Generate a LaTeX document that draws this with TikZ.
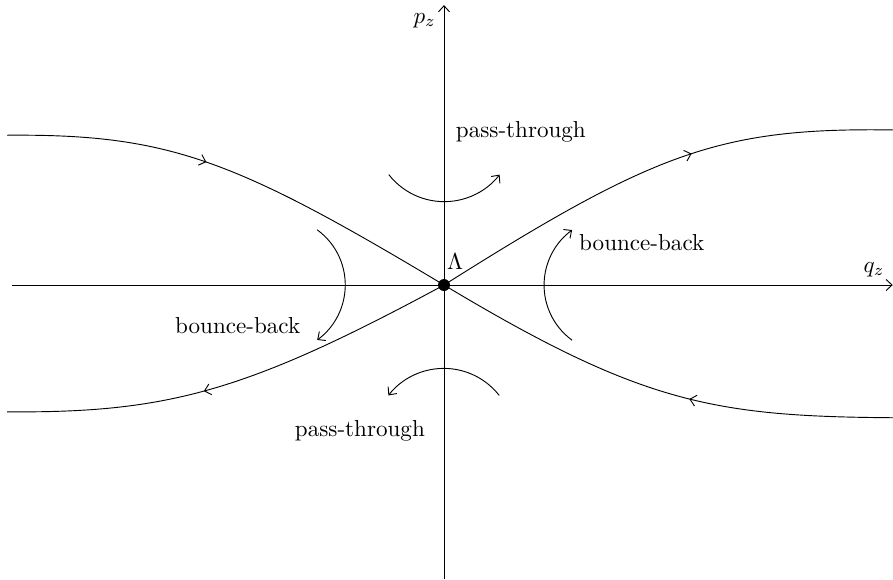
\documentclass[tikz,border=0pt]{standalone}
\usepackage{amsmath}
\usepackage{amssymb}
\usetikzlibrary{calc,arrows.meta,decorations.markings}

\begin{document}
\begin{tikzpicture}[
        >={Straight Barb[length=2.6pt,width=4.8pt]},
        every node/.style={font=\normalsize},
        axis/.style={->},
        orbit/.style={
            postaction={decorate},
            decoration={markings, mark=at position #1 with {\arrow{>}}}
        },
        turn/.style={->},
        saddle/.style={
            circle,
            fill,
            inner sep=0pt,
            minimum size=5.2pt
        }
    ]

    \useasboundingbox (-6.758,-4.475) rectangle (6.834,4.338);

    % =========================
    % Axes
    % =========================
    \coordinate (qmin) at (-6.57,0);
    \coordinate (qmax) at (6.83,0);
    \coordinate (pmin) at (0,-4.475);
    \coordinate (pmax) at (0,4.26);

    \draw[axis] (qmin) -- (qmax) node[above left] {$q_z$};
    \draw[axis] (pmin) -- (pmax) node[below left] {$p_z$};

    \node[saddle] (L) at (0,0) {};
    \node (lam) at (0.17,0.35) {$\Lambda$};

    % =========================
    % Separatrices
    % =========================
    \coordinate (ul) at (-6.65,2.28);
    \coordinate (ur) at (6.83,2.36);
    \coordinate (ll) at (-6.65,-1.93);
    \coordinate (lr) at (6.83,-2.02);

    \draw[orbit=0.43] (ul) .. controls (-4.2,2.3) and (-3.2,1.92) .. (L.center);
    \draw[orbit=0.58] (L.center) .. controls (3.2,2.02) and (4.2,2.4) .. (ur);
    \draw[orbit=0.43] (lr) .. controls (4.1,-2.0) and (3.0,-1.8) .. (L.center);
    \draw[orbit=0.57] (L.center) .. controls (-3.0,-1.62) and (-4.2,-1.95) .. (ll);

    % =========================
    % Turning arrows
    % =========================
    \coordinate (ptup) at (-0.84,1.68);
    \coordinate (ptdown) at (0.84,-1.68);
    \coordinate (bbright) at (1.95,-0.84);
    \coordinate (bbleft) at (-1.93,0.84);

    \draw[turn] (ptup) arc (218:322:1.07);
    \draw[turn] (ptdown) arc (38:142:1.07);
    \draw[turn] (bbright) arc (234:126:1.036);
    \draw[turn] (bbleft) arc (54:-54:1.036);

    % Labels
    \node (passup) at (1.17,2.33) {pass-through};
    \node (bounceright) at (3.01,0.64) {bounce-back};
    \node (bounceleft) at (-3.14,-0.62) {bounce-back};
    \node (passdown) at (-1.28,-2.22) {pass-through};

\end{tikzpicture}
\end{document}
